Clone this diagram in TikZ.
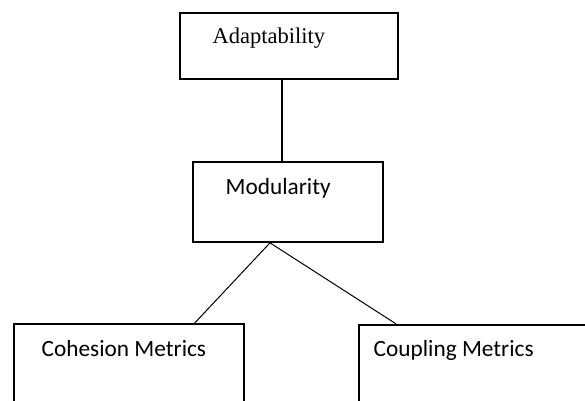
\documentclass[tikz,border=0pt]{standalone}
\usepackage{fontspec}
\setmainfont{Liberation Serif}
\newfontfamily\carlitofont{Carlito}
\usetikzlibrary{calc}
\begin{document}
\begin{tikzpicture}[x=1pt,y=-1pt,
  box/.style={draw,line width=1.7pt,inner sep=0pt,minimum width=#1},
  lbl/.style={anchor=base west,inner sep=0pt,font=\fontsize{22.5}{27}\selectfont},
  slbl/.style={lbl,font=\carlitofont\fontsize{23.3}{28}\selectfont},
  link/.style={line width=1pt}]
\clip (0,0) rectangle (585,400);
\node[box=217.7pt, minimum height=66.3pt] (adapt) at (288.85,45.85) {};
\node[box=190.3pt, minimum height=80pt] (mod) at (287.85,202) {};
\node[box=230pt, minimum height=105.7pt] (coh) at (129.3,377.15) {};
\node[box=251pt, minimum height=105.3pt] (coup) at (484.5,377.35) {};
\node[lbl] (tadapt) at (212.5,43) {Adaptability};
\node[slbl] (tmod) at (225.5,194) {Modularity};
\node[slbl] (tcoh) at (41.5,356.7) {Cohesion Metrics};
\node[slbl] (tcoup) at (373.5,356.7) {Coupling Metrics};
\draw[line width=2pt] ($(adapt.south)+(-7.15,0)$) -- ($(mod.north)+(-6.15,0)$);
\coordinate (mb) at ($(mod.south)+(-17.85,0)$);
\draw[link] (mb) -- ($(coh.north)+(65,0)$);
\draw[link] (mb) -- ($(coup.north)+(-88.5,0)$);
\end{tikzpicture}
\end{document}
